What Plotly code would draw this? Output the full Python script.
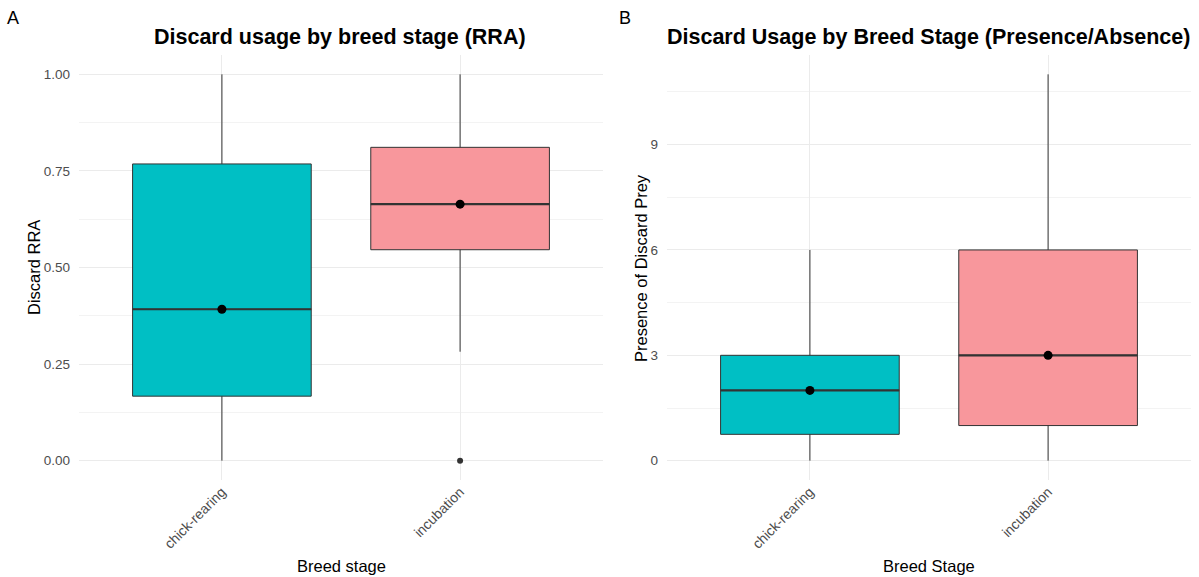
import plotly.graph_objects as go

# ---- data ----
stages = ["chick-rearing", "incubation"]
stage_pos = [1, 2]
fill_colors = ["#00BFC4", "#F8979C"]

# Panel A: Discard RRA
rra_low = [0.0, 0.282]
rra_q1 = [0.167, 0.546]
rra_med = [0.392, 0.664]
rra_q3 = [0.768, 0.811]
rra_high = [1.0, 1.0]
rra_outlier_stage = [2]
rra_outlier_val = [0.0]

# Panel B: Presence of Discard Prey
pa_low = [0, 0]
pa_q1 = [0.75, 1]
pa_med = [2, 3]
pa_q3 = [3, 6]
pa_high = [6, 11]

# ---- layout geometry ----
W, H = 1199, 577
ydom = [1 - 480 / H, 1 - 55 / H]
xdomA = [79 / W, 603 / W]
xdomB = [667 / W, 1191 / W]
BOX_W = 0.75
FONT = "Liberation Sans, Arial, sans-serif"

fig = go.Figure()


def add_panel(xa, ya, low, q1, med, q3, high):
    for i, s in enumerate(stages):
        fig.add_trace(go.Box(
            x=[stage_pos[i]], q1=[q1[i]], median=[med[i]], q3=[q3[i]],
            lowerfence=[low[i]], upperfence=[high[i]],
            width=BOX_W, whiskerwidth=0,
            fillcolor=fill_colors[i],
            line=dict(color="#333333", width=1),
            boxpoints=False, name=s, showlegend=False,
            xaxis=xa, yaxis=ya, hoverinfo="skip",
        ))
        # thicker median line
        fig.add_trace(go.Scatter(
            x=[stage_pos[i] - BOX_W / 2, stage_pos[i] + BOX_W / 2],
            y=[med[i], med[i]], mode="lines",
            line=dict(color="#333333", width=2.2),
            showlegend=False, xaxis=xa, yaxis=ya, hoverinfo="skip",
        ))
    # median point
    fig.add_trace(go.Scatter(
        x=stage_pos, y=med, mode="markers",
        marker=dict(color="black", size=9),
        showlegend=False, xaxis=xa, yaxis=ya, hoverinfo="skip",
    ))


add_panel("x", "y", rra_low, rra_q1, rra_med, rra_q3, rra_high)
fig.add_trace(go.Scatter(
    x=rra_outlier_stage, y=rra_outlier_val, mode="markers",
    marker=dict(color="#333333", size=6),
    showlegend=False, xaxis="x", yaxis="y", hoverinfo="skip",
))
add_panel("x2", "y2", pa_low, pa_q1, pa_med, pa_q3, pa_high)

xcommon = dict(
    range=[0.4, 2.6], tickmode="array", tickvals=stage_pos, ticktext=stages,
    tickangle=-45, showgrid=True, gridcolor="#EBEBEB", gridwidth=1,
    zeroline=False, showline=False, ticks="", automargin=False,
    tickfont=dict(family=FONT, size=14, color="#4D4D4D"),
)
ycommon = dict(
    showgrid=True, gridcolor="#EBEBEB", gridwidth=1, zeroline=False,
    showline=False, ticks="", automargin=False, domain=ydom,
    ticklabelstandoff=8,
    tickfont=dict(family=FONT, size=13.5, color="#4D4D4D"),
)

fig.update_layout(
    width=W, height=H,
    margin=dict(l=0, r=0, t=0, b=0),
    paper_bgcolor="white", plot_bgcolor="white",
    showlegend=False,
    xaxis=dict(xcommon, domain=xdomA, anchor="y"),
    xaxis2=dict(xcommon, domain=xdomB, anchor="y2"),
    yaxis=dict(ycommon, anchor="x", range=[-0.05, 1.05],
               tickvals=[0, 0.25, 0.5, 0.75, 1.0],
               ticktext=["0.00", "0.25", "0.50", "0.75", "1.00"],
               minor=dict(tickvals=[0.125, 0.375, 0.625, 0.875],
                          showgrid=True, gridcolor="#F3F3F3", gridwidth=1)),
    yaxis2=dict(ycommon, anchor="x2", range=[-0.55, 11.55],
                tickvals=[0, 3, 6, 9],
                minor=dict(tickvals=[1.5, 4.5, 7.5, 10.5],
                           showgrid=True, gridcolor="#F3F3F3", gridwidth=1)),
)

ann = []
tfont = dict(family=FONT, size=21.5, color="black")
ann.append(dict(text="<b>Discard usage by breed stage (RRA)</b>", x=340 / W, y=1 - 37 / H,
                xref="paper", yref="paper", showarrow=False, font=tfont,
                xanchor="center", yanchor="middle"))
ann.append(dict(text="<b>Discard Usage by Breed Stage (Presence/Absence)</b>", x=928 / W, y=1 - 37 / H,
                xref="paper", yref="paper", showarrow=False, font=tfont,
                xanchor="center", yanchor="middle"))
ann.append(dict(text="A", x=13 / W, y=1 - 18 / H, xref="paper", yref="paper",
                showarrow=False, font=dict(family=FONT, size=18, color="black"),
                xanchor="center", yanchor="middle"))
ann.append(dict(text="B", x=625 / W, y=1 - 18 / H, xref="paper", yref="paper",
                showarrow=False, font=dict(family=FONT, size=18, color="black"),
                xanchor="center", yanchor="middle"))
afont = dict(family=FONT, size=16.5, color="black")
ann.append(dict(text="Breed stage", x=341 / W, y=1 - 566 / H, xref="paper", yref="paper",
                showarrow=False, font=afont, xanchor="center", yanchor="middle"))
ann.append(dict(text="Breed Stage", x=929 / W, y=1 - 566 / H, xref="paper", yref="paper",
                showarrow=False, font=afont, xanchor="center", yanchor="middle"))
ann.append(dict(text="Discard RRA", x=34 / W, y=1 - 268 / H, xref="paper", yref="paper",
                showarrow=False, font=afont, textangle=-90,
                xanchor="center", yanchor="middle"))
ann.append(dict(text="Presence of Discard Prey", x=641 / W, y=1 - 268 / H, xref="paper", yref="paper",
                showarrow=False, font=afont, textangle=-90,
                xanchor="center", yanchor="middle"))
fig.update_layout(annotations=ann)

fig.write_html("out.html", config={"displayModeBar": False},
               post_script="document.body.style.margin='0';document.body.style.overflow='hidden';")
